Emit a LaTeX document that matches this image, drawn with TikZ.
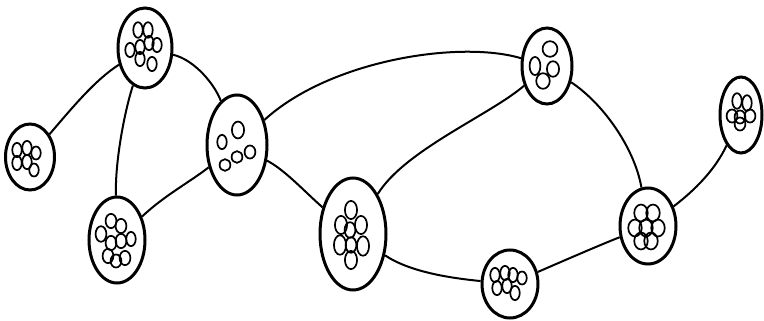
\documentclass[tikz,border=0pt]{standalone}
\usetikzlibrary{shapes.geometric}
\tikzset{
  cell/.style={ellipse, draw=black, line width=3pt, inner sep=0pt, fill=white},
  link/.style={line width=2pt, draw=black},
  blob/.style={line width=1.7pt, draw=black}
}
\newcommand\myovals[2]{%
  \begin{scope}[shift={(#1)}]
    \foreach \dx/\dy/\a/\b in {#2}
      \draw[blob] (\dx,\dy) ellipse [x radius=1.35*\a pt, y radius=1.3*\b pt];
  \end{scope}}
\begin{document}
\begin{tikzpicture}[x=1pt,y=-1pt]
\useasboundingbox (0,0) rectangle (764,321);
\node[cell, minimum width=54pt, minimum height=80pt] (A) at (145,48) {};
\node[cell, minimum width=49pt, minimum height=66pt] (B) at (30,157) {};
\node[cell, minimum width=60pt, minimum height=100pt] (C) at (237,145) {};
\node[cell, minimum width=56pt, minimum height=86pt] (D) at (117,240) {};
\node[cell, minimum width=66pt, minimum height=112pt] (E) at (353,234) {};
\node[cell, minimum width=56pt, minimum height=68pt] (F) at (510,284) {};
\node[cell, minimum width=50pt, minimum height=76pt] (G) at (547,66) {};
\node[cell, minimum width=56pt, minimum height=76pt] (H) at (648,226) {};
\node[cell, minimum width=42pt, minimum height=76pt] (I) at (741,115) {};

\draw[link] (B) .. controls (72,108) and (95,80) .. (A);
\draw[link] (A) .. controls (125,110) and (115,160) .. (D);
\draw[link] (A) .. controls (195,60) and (215,85) .. (C);
\draw[link] (D) .. controls (165,195) and (190,182) .. (C);
\draw[link] (C) .. controls (330,60) and (460,40) .. (G);
\draw[link] (C) .. controls (285,170) and (305,192) .. (E);
\draw[link] (E) .. controls (405,150) and (490,115) .. (G);
\draw[link] (E) .. controls (410,272) and (450,278) .. (F);
\draw[link] (G) .. controls (605,105) and (635,150) .. (H);
\draw[link] (F) .. controls (570,258) and (600,245) .. (H);
\draw[link] (H) .. controls (695,190) and (715,170) .. (I);

\myovals{A}{-7/-18/3.5/6, 3/-18/3.5/6, -15/2/3.5/5.5, -5/-1/3.5/5.5, 4/-5/3.5/5.5, 12/-3/3.5/5.5, -5/11/3.5/5.5, 7/16/3.5/5.5}
\myovals{B}{-13/-7/3.5/5.5, -3/-9/3.5/5.5, 6/-4/3.5/5, -13/6/3.5/5.5, -3/5/3.5/5.5, 4/13/3.5/5}
\myovals{C}{1/-15/4.5/6.5, -15/-3/3.5/5.5, 0/12/4/4.5, 13/7/4/5, -12/20/4/4.5}
\myovals{D}{-6/-19/4/5.5, -16/-6/4/6, 4/-14/4/5.5, -6/3/4/5.5, 4/1/4/5.5, 14/-1/3.5/5.5, -9/16/4/5.5, -1/21/4/5, 8/18/4/5.5}
\myovals{E}{-2/-24/4.5/7, -12/-9/4.5/7, 8/-9/4.5/7, -3/-4/4/6, -13/11/4.5/7.5, -2/11/4/6, 10/12/4.5/7.5, -2/26/4.5/7}
\myovals{F}{-15/-9/3.5/5.5, -5/-11/3.5/5.5, 3/-9/3.5/5.5, 12/-6/3.5/5, -13/4/3.5/5.5, -3/2/3.5/5.5, 5/9/3.5/5.5}
\myovals{G}{3/-17/5.5/6, -12/0/4/7, 6/3/4.5/6, -4/15/5/6}
\myovals{H}{-7/-13/5/6.5, 5/-13/5/6.5, -13/2/5/6.5, -2/2/5/6.5, 10/2/5/6.5, -7/15/5/6.5, 3/15/5/6.5}
\myovals{I}{-4/-14/3.5/6, 6/-12/3.5/6, -9/1/4/5, -1/2/4/5, 9/1/4/5, -1/9/4/5}
\end{tikzpicture}
\end{document}
